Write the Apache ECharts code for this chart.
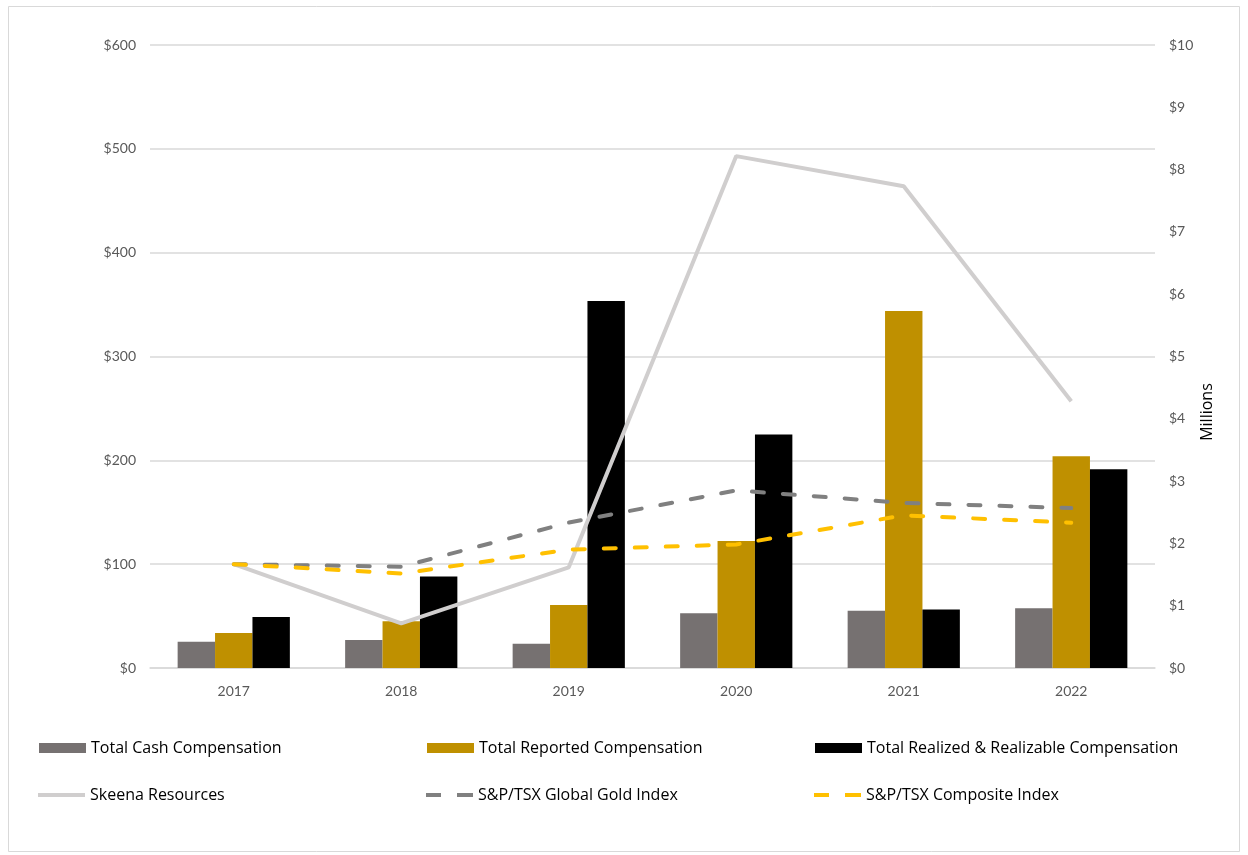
<!DOCTYPE html>
<html>
<head>
<meta charset="utf-8">
<script src="https://cdn.jsdelivr.net/npm/echarts@6/dist/echarts.min.js"></script>
<style>html,body{margin:0;padding:0;background:#fff;}#c{width:1248px;height:855px;}</style>
</head>
<body>
<div id="c"></div>
<script>
const years = ['2017','2018','2019','2020','2021','2022'];
// Bars, $ millions (right axis)
const totalCash = [0.42, 0.45, 0.39, 0.88, 0.92, 0.96];
const totalReported = [0.56, 0.75, 1.01, 2.04, 5.73, 3.40];
const totalRealized = [0.82, 1.47, 5.89, 3.75, 0.94, 3.19];
// Lines, $ index value (left axis)
const skeena = [100, 43, 97, 493, 464, 257];
const goldIndex = [100, 97.5, 140, 171, 159, 154];
const compositeIndex = [100, 91, 114, 119, 147, 140];
const leftTicks = [0, 100, 200, 300, 400, 500, 600];
const rightTicks = [0,1,2,3,4,5,6,7,8,9,10];

const font = 'Lato, "Open Sans", sans-serif';
const legendFont = '"Open Sans", Lato, sans-serif';
const chart = echarts.init(document.getElementById('c'), null, {renderer:'canvas'});
const dashIcon = 'path://M0,0h15v4h-15z M31,0h16v4h-16z';
function lg(name, left, top, icon, h){
  return {
    data:[{name:name, icon:icon}], left:left, top:top, padding:0,
    itemWidth: 47, itemHeight: h, itemGap: 4,
    textStyle: {fontFamily: legendFont, fontSize: 16, color: '#000', padding:[0,0,0,0]},
    selectedMode: false
  };
}
const dash = [12, 19];
chart.setOption({
  animation: false,
  backgroundColor: '#fff',
  graphic: [
    {type:'rect', shape:{x:8.5, y:6.5, width:1231, height:845}, style:{fill:'none', stroke:'#D9D9D9', lineWidth:1}, silent:true},
    {type:'text', x:1207, y:412, rotation: Math.PI/2, silent:true,
      style:{text:'Millions', fill:'#000', font:'16px "Open Sans", sans-serif', align:'center', verticalAlign:'middle'}}
  ],
  grid: {left: 150, right: 93, top: 45, bottom: 187},
  legend: [
    lg('Total Cash Compensation', 39, 740, 'rect', 10),
    lg('Total Reported Compensation', 427, 740, 'rect', 10),
    lg('Total Realized & Realizable Compensation', 815, 740, 'rect', 10),
    lg('Skeena Resources', 38, 787, 'path://M0,0h47v4h-47z', 4),
    lg('S&P/TSX Global Gold Index', 426, 787, dashIcon, 4),
    lg('S&P/TSX Composite Index', 814, 787, dashIcon, 4)
  ],
  xAxis: {
    type: 'category', data: years,
    axisLine: {lineStyle: {color: '#D9D9D9', width: 1.5}},
    axisTick: {show: false},
    axisLabel: {color: '#595959', fontFamily: font, fontSize: 14, margin: 16}
  },
  yAxis: [
    {
      type: 'value', min: leftTicks[0], max: leftTicks[leftTicks.length-1], interval: 100,
      axisLine: {show:false}, axisTick: {show:false},
      axisLabel: {color:'#595959', fontFamily: font, fontSize: 14, margin: 14, formatter: v => '$' + v},
      splitLine: {lineStyle: {color: '#D9D9D9', width: 1.5}}
    },
    {
      type: 'value', position: 'right', min: rightTicks[0], max: rightTicks[rightTicks.length-1], interval: 1,
      axisLine: {show:false}, axisTick: {show:false},
      axisLabel: {color:'#595959', fontFamily: font, fontSize: 14, margin: 14, formatter: v => '$' + v},
      splitLine: {show:false}
    }
  ],
  series: [
    {name:'Total Cash Compensation', type:'bar', yAxisIndex:1, data: totalCash, itemStyle:{color:'#767171'}, barGap:'0%', barCategoryGap:'33%'},
    {name:'Total Reported Compensation', type:'bar', yAxisIndex:1, data: totalReported, itemStyle:{color:'#BF9000'}, barGap:'0%', barCategoryGap:'33%'},
    {name:'Total Realized & Realizable Compensation', type:'bar', yAxisIndex:1, data: totalRealized, itemStyle:{color:'#000000'}, barGap:'0%', barCategoryGap:'33%'},
    {name:'Skeena Resources', type:'line', yAxisIndex:0, data: skeena, showSymbol:false, symbol:'none',
      lineStyle:{color:'#D0CECE', width:4}, itemStyle:{color:'#D0CECE'}},
    {name:'S&P/TSX Global Gold Index', type:'line', yAxisIndex:0, data: goldIndex, showSymbol:false, symbol:'none',
      lineStyle:{color:'#808080', width:4, type:dash, cap:'round'}, itemStyle:{color:'#808080'}},
    {name:'S&P/TSX Composite Index', type:'line', yAxisIndex:0, data: compositeIndex, showSymbol:false, symbol:'none',
      lineStyle:{color:'#FFC000', width:4, type:dash, cap:'round'}, itemStyle:{color:'#FFC000'}}
  ]
});
</script>
</body>
</html>
